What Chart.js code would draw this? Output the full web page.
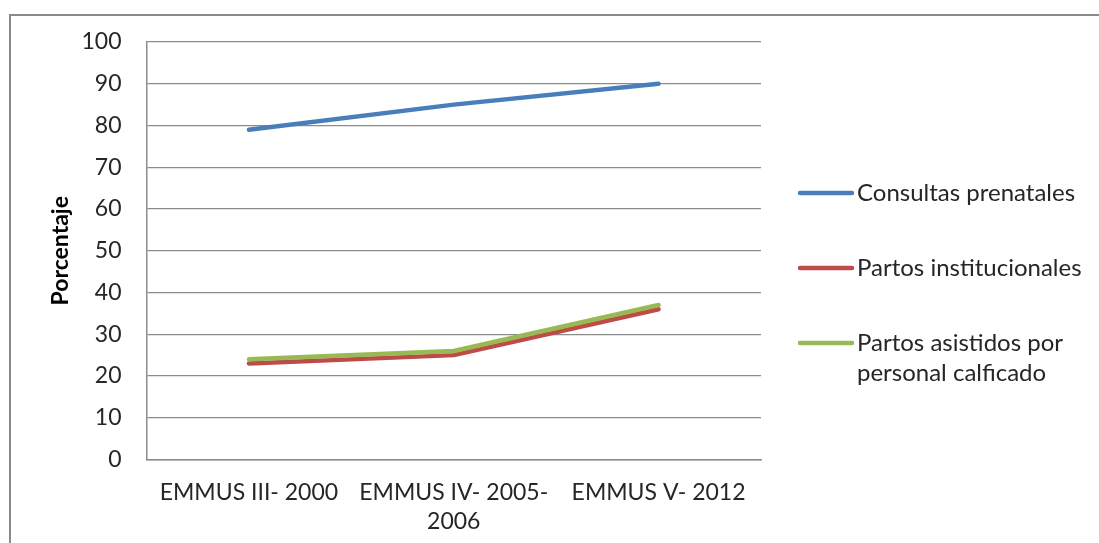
<!DOCTYPE html>
<html lang="es">
<head>
<meta charset="utf-8">
<title>Atención materna – EMMUS</title>
<script src="https://cdn.jsdelivr.net/npm/chart.js@4.4.1/dist/chart.umd.min.js"></script>
<style>
  html, body { margin: 0; padding: 0; background: #ffffff; overflow: hidden; }
  #frame {
    position: absolute; left: 9px; top: 14px;
    width: 1200px; height: 700px;
    border: 2px solid #8a8a8a; box-sizing: border-box;
  }
  #wrap { position: absolute; left: 0; top: 0; width: 1099px; height: 543px; }
</style>
</head>
<body>
<div id="frame"></div>
<div id="wrap"><canvas id="chart" width="1099" height="543"></canvas></div>
<script>
// Survey rounds (x axis)
const categories = [
  'EMMUS III- 2000',
  ['EMMUS IV- 2005-', '2006'],
  'EMMUS V- 2012'
];

// Series names
const seriesNames = [
  'Consultas prenatales',
  'Partos institucionales',
  'Partos asistidos por personal calficado'
];

// Percentages per survey round
const consultasPrenatales = [79, 85, 90];
const partosInstitucionales = [23, 25, 36];
const partosAsistidos = [24, 26, 37];

// Y axis range and step
const yMin = 0;
const yMax = 100;
const yStep = 10;

const seriesColors = ['#4a7ebb', '#be4b48', '#98b954'];
const textColor = '#262626';
const gridColor = '#8c8c8c';
const fontFamily = 'Lato, "Open Sans", sans-serif';

// Legend drawn at the right of the plot, with word wrapping
const sideLegend = {
  id: 'sideLegend',
  afterDraw(chart) {
    const ctx = chart.ctx;
    const area = chart.chartArea;
    const lineX0 = area.right + 39;
    const lineX1 = area.right + 91;
    const textX = area.right + 96;
    const maxWidth = 1095 - textX;
    const firstY = 193;
    const rowGap = 75;
    const lineHeight = 30;
    ctx.save();
    ctx.font = '24px ' + fontFamily;
    ctx.textBaseline = 'middle';
    ctx.textAlign = 'left';
    chart.data.datasets.forEach((ds, i) => {
      const y = firstY + i * rowGap;
      ctx.strokeStyle = ds.borderColor;
      ctx.lineWidth = 4.5;
      ctx.lineCap = 'round';
      ctx.beginPath();
      ctx.moveTo(lineX0, y);
      ctx.lineTo(lineX1, y);
      ctx.stroke();
      // wrap label into lines
      const words = ds.label.split(' ');
      const lines = [];
      let cur = '';
      words.forEach(w => {
        const test = cur ? cur + ' ' + w : w;
        if (cur && ctx.measureText(test).width > maxWidth) {
          lines.push(cur);
          cur = w;
        } else {
          cur = test;
        }
      });
      if (cur) lines.push(cur);
      ctx.fillStyle = textColor;
      lines.forEach((ln, k) => ctx.fillText(ln, textX, y + k * lineHeight));
    });
    ctx.restore();
  }
};

const seriesData = [consultasPrenatales, partosInstitucionales, partosAsistidos];

new Chart(document.getElementById('chart'), {
  type: 'line',
  data: {
    labels: categories,
    datasets: seriesNames.map((name, i) => ({
      label: name,
      data: seriesData[i],
      borderColor: seriesColors[i],
      backgroundColor: seriesColors[i],
      borderWidth: 4.5,
      borderCapStyle: 'round',
      borderJoinStyle: 'round',
      pointRadius: 0,
      pointHoverRadius: 0,
      tension: 0,
      fill: false,
      order: seriesNames.length - 1 - i
    }))
  },
  options: {
    responsive: false,
    animation: false,
    devicePixelRatio: 1,
    layout: { padding: { top: 42, right: 338, bottom: 0, left: 0 } },
    plugins: {
      legend: { display: false },
      tooltip: { enabled: false },
      title: { display: false }
    },
    scales: {
      x: {
        offset: true,
        grid: { display: false, drawTicks: false },
        border: { display: true, color: gridColor, width: 1.5 },
        ticks: {
          color: textColor,
          padding: 19,
          maxRotation: 0,
          autoSkip: false,
          font: { family: fontFamily, size: 23, lineHeight: 1.26 }
        },
        afterFit(scale) { scale.height = 83.5; }
      },
      y: {
        min: yMin,
        max: yMax,
        ticks: {
          stepSize: yStep,
          color: textColor,
          padding: 25,
          font: { family: fontFamily, size: 23 }
        },
        grid: { color: gridColor, lineWidth: 1.3, drawTicks: false },
        border: { display: true, color: gridColor, width: 1.5 },
        title: {
          display: true,
          text: 'Porcentaje',
          color: '#000000',
          padding: { top: 47, bottom: 0 },
          font: { family: fontFamily, size: 23, weight: 'bold' }
        },
        afterFit(scale) { scale.width = 146.5; }
      }
    }
  },
  plugins: [sideLegend]
});
</script>
</body>
</html>
